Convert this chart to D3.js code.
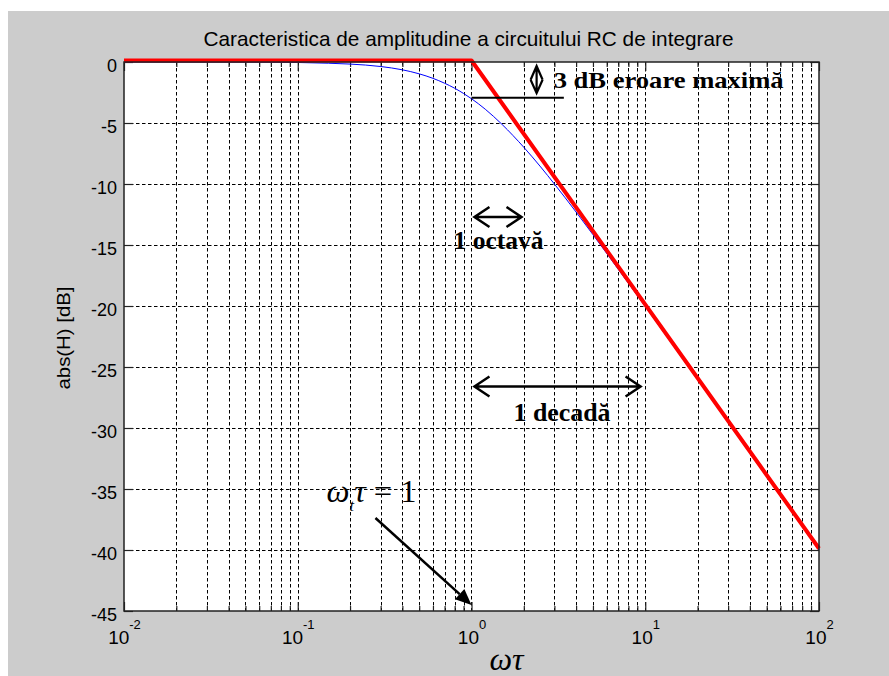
<!DOCTYPE html>
<html>
<head>
<meta charset="utf-8">
<script src="https://cdn.jsdelivr.net/npm/d3@7"></script>
<style>
body { margin: 0; background: #fff; }
svg { display: block; }
</style>
</head>
<body>
<script>
var omegaTau = [0.01, 0.05, 0.1, 0.15, 0.2, 0.3, 0.4, 0.5, 0.6, 0.7, 0.8, 0.9, 1, 1.2, 1.5, 2, 2.5, 3, 4, 5, 7, 10, 20, 50, 100];
var gainDb = [0, -0.01, -0.04, -0.1, -0.17, -0.37, -0.64, -0.97, -1.34, -1.74, -2.15, -2.58, -3.01, -3.87, -5.12, -6.99, -8.6, -10.0, -12.3, -14.15, -17.0, -20.04, -26.03, -33.98, -40.0];

// asymptotic approximation (red)
var asymTau = [0.01, 1, 100];
var asymDb = [0, 0, -40];

// ticks
var yTicks = [-45, -40, -35, -30, -25, -20, -15, -10, -5, 0];
var xMajor = [0.01, 0.1, 1, 10, 100];
var xExponents = ["-2", "-1", "0", "1", "2"];

var W = 889, H = 676;
var marginLeft = 124, marginTop = 62; // plot origin
var width = 695; // width of the axes
var height = 549; // height of the axes

var svg = d3.select("body").append("svg")
    .attr("width", W)
    .attr("height", H);

// figure background (grey window)
svg.append("rect").attr("width", W).attr("height", H).attr("fill", "#fff");
svg.append("rect").attr("x", 8).attr("y", 11).attr("width", W - 8).attr("height", H - 11).attr("fill", "#cccccc");

var graph = svg.append("g").attr("transform", `translate(${marginLeft}, ${marginTop})`);

graph.append("rect").attr("width", width).attr("height", height).attr("fill", "#fff");

var x = d3.scaleLog().domain([0.01, 100]).range([0, width]);
var y = d3.scaleLinear().domain([-45, 0]).range([height, 0]);

var allX = x.ticks(); // 1..9 x 10^k
var minorX = allX.filter(function(t) { return xMajor.indexOf(t) < 0; });

// dashed grid
var grid = graph.append("g").attr("stroke", "#000").attr("stroke-width", 1).attr("stroke-dasharray", "3.5,2.5");
grid.selectAll(".vgrid").data(allX.filter(function(t) { return t > 0.01 && t < 100; }))
  .enter().append("line")
  .attr("x1", function(d) { return Math.round(x(d)) + 0.5; })
  .attr("x2", function(d) { return Math.round(x(d)) + 0.5; })
  .attr("y1", 0).attr("y2", height);
grid.selectAll(".hgrid").data(yTicks.filter(function(t) { return t > -45 && t < 0; }))
  .enter().append("line")
  .attr("x1", 0).attr("x2", width)
  .attr("y1", function(d) { return Math.round(y(d)) + 0.5; })
  .attr("y2", function(d) { return Math.round(y(d)) + 0.5; });

// axes (ticks pointing inside, as in MATLAB)
var axisColor = "#222";
function styleAxis(g) {
  g.select(".domain").remove();
  g.selectAll(".tick line").attr("stroke", axisColor).attr("stroke-width", 1.2);
  g.attr("font-family", "Arial, 'Liberation Sans', sans-serif");
}

graph.append("g").attr("transform", `translate(0, ${height})`)
  .call(d3.axisBottom(x).tickValues(minorX).tickSize(-5).tickFormat(""))
  .call(styleAxis);
graph.append("g")
  .call(d3.axisTop(x).tickValues(minorX).tickSize(-5).tickFormat(""))
  .call(styleAxis);
graph.append("g")
  .call(d3.axisTop(x).tickValues(xMajor).tickSize(-9).tickFormat(""))
  .call(styleAxis);
graph.append("g").attr("transform", `translate(${width}, 0)`)
  .call(d3.axisRight(y).tickValues(yTicks).tickSize(-9).tickFormat(""))
  .call(styleAxis);

var xAxis = graph.append("g").attr("transform", `translate(0, ${height})`)
  .call(d3.axisBottom(x).tickValues(xMajor).tickSize(-9).tickPadding(0))
  .call(styleAxis);
xAxis.selectAll(".tick text")
  .attr("font-size", 19).attr("fill", "#000")
  .attr("y", 33).attr("dy", 0)
  .text("10")
  .append("tspan")
  .attr("font-size", 13).attr("dy", -15)
  .text(function(d, i) { return xExponents[i]; });

var yAxis = graph.append("g")
  .call(d3.axisLeft(y).tickValues(yTicks).tickSize(-9).tickPadding(7).tickFormat(d3.format("d")))
  .call(styleAxis);
yAxis.selectAll(".tick text")
  .attr("font-size", 18).attr("fill", "#000").attr("dy", "0.5em")
  .text(function(d) { return d === 0 ? "0" : String(d).replace("\u2212", "-"); });

// curves
var line = d3.line()
  .x(function(d) { return x(d[0]); })
  .y(function(d) { return y(d[1]); })
  .curve(d3.curveMonotoneX);

graph.append("path")
  .datum(d3.zip(omegaTau, gainDb))
  .attr("d", line)
  .attr("fill", "none").attr("stroke", "#0000ff").attr("stroke-width", 1);

graph.append("path")
  .datum(d3.zip(asymTau, asymDb))
  .attr("d", d3.line().x(function(d) { return x(d[0]); }).y(function(d) { return y(d[1]) - 1.5; }))
  .attr("fill", "none").attr("stroke", "#ff0000").attr("stroke-width", 4)
  .attr("stroke-linejoin", "round");

// axes box
graph.append("rect").attr("width", width).attr("height", height)
  .attr("fill", "none").attr("stroke", axisColor).attr("stroke-width", 1.5);

// titles
svg.append("text")
  .attr("x", marginLeft + width / 2 - 3).attr("y", 46)
  .attr("text-anchor", "middle")
  .attr("font-family", "Arial, 'Liberation Sans', sans-serif")
  .attr("font-size", 21)
  .attr("textLength", 530).attr("lengthAdjust", "spacingAndGlyphs")
  .text("Caracteristica de amplitudine a circuitului RC de integrare");

svg.append("text")
  .attr("transform", `translate(70, ${marginTop + 276}) rotate(-90)`)
  .attr("text-anchor", "middle")
  .attr("font-family", "Arial, 'Liberation Sans', sans-serif")
  .attr("font-size", 18)
  .attr("textLength", 103).attr("lengthAdjust", "spacingAndGlyphs")
  .text("abs(H) [dB]");

svg.append("text")
  .attr("x", marginLeft + x(1) + 18).attr("y", 670)
  .attr("font-family", "'Times New Roman', 'Liberation Serif', serif")
  .attr("font-style", "italic")
  .attr("font-size", 32)
  .text("\u03C9\u03C4");

// annotations
var ann = graph.append("g").attr("fill", "#000")
  .attr("font-family", "'Times New Roman', 'Liberation Serif', serif");

function openHeads(g, x1, x2, yy) {
  var p = d3.path();
  p.moveTo(x1, yy); p.lineTo(x2, yy);
  p.moveTo(x1 + 15, yy - 10); p.lineTo(x1, yy); p.lineTo(x1 + 15, yy + 10);
  p.moveTo(x2 - 15, yy - 10); p.lineTo(x2, yy); p.lineTo(x2 - 15, yy + 10);
  g.append("path").attr("d", p.toString())
    .attr("fill", "none").attr("stroke", "#000").attr("stroke-width", 2.5);
}

// 3 dB maximum error
var ex = x(2.37);
var ep = d3.path();
ep.moveTo(ex, y(-0.33)); ep.lineTo(ex, y(-2.55));
ep.moveTo(ex - 6, y(-1.45)); ep.lineTo(ex, y(-0.33)); ep.lineTo(ex + 6, y(-1.45));
ep.moveTo(ex - 6, y(-1.45)); ep.lineTo(ex, y(-2.55)); ep.lineTo(ex + 6, y(-1.45));
ann.append("path").attr("d", ep.toString())
  .attr("fill", "none").attr("stroke", "#000").attr("stroke-width", 2.2);
ann.append("line")
  .attr("x1", x(1)).attr("x2", x(3.4))
  .attr("y1", y(-2.93)).attr("y2", y(-2.93))
  .attr("stroke", "#000").attr("stroke-width", 2);
ann.append("text")
  .attr("x", x(2.97)).attr("y", y(-2.13))
  .attr("font-weight", "bold").attr("font-size", 24)
  .attr("textLength", 230).attr("lengthAdjust", "spacingAndGlyphs")
  .text("3 dB eroare maximă");

// octave
openHeads(ann, x(1.04), x(1.94), y(-12.7));
ann.append("text")
  .attr("x", x(0.788)).attr("y", y(-15.3))
  .attr("font-weight", "bold").attr("font-size", 25)
  .attr("textLength", 90).attr("lengthAdjust", "spacingAndGlyphs")
  .text("1 octavă");

// decade
openHeads(ann, x(1.04), x(9.4), y(-26.6));
ann.append("text")
  .attr("x", x(1.745)).attr("y", y(-29.4))
  .attr("font-weight", "bold").attr("font-size", 26)
  .attr("textLength", 97).attr("lengthAdjust", "spacingAndGlyphs")
  .text("1 decadă");

// omega_t tau = 1
var eq = ann.append("text")
  .attr("x", x(0.1464)).attr("y", y(-36.07))
  .attr("font-size", 32)
  .attr("textLength", 90).attr("lengthAdjust", "spacingAndGlyphs");
eq.append("tspan").attr("font-style", "italic").text("\u03C9");
eq.append("tspan").attr("font-style", "italic").attr("font-size", 16).attr("dy", 9).text("t");
eq.append("tspan").attr("font-style", "italic").attr("dy", -9).text("\u03C4");
eq.append("tspan").text(" = 1");

// pointer arrow to omega tau = 1
var ax1 = x(0.28), ay1 = y(-37.38), ax2 = x(1), ay2 = y(-44.5);
var ang = Math.atan2(ay2 - ay1, ax2 - ax1);
var hl = 16, hw = 7;
var bx = ax2 - hl * Math.cos(ang), by = ay2 - hl * Math.sin(ang);
ann.append("line")
  .attr("x1", ax1).attr("y1", ay1).attr("x2", bx).attr("y2", by)
  .attr("stroke", "#000").attr("stroke-width", 2.5);
ann.append("path")
  .attr("d", "M" + ax2 + "," + ay2 +
    "L" + (bx + hw * Math.sin(ang)) + "," + (by - hw * Math.cos(ang)) +
    "L" + (bx - hw * Math.sin(ang)) + "," + (by + hw * Math.cos(ang)) + "Z")
  .attr("fill", "#000");
</script>
</body>
</html>
